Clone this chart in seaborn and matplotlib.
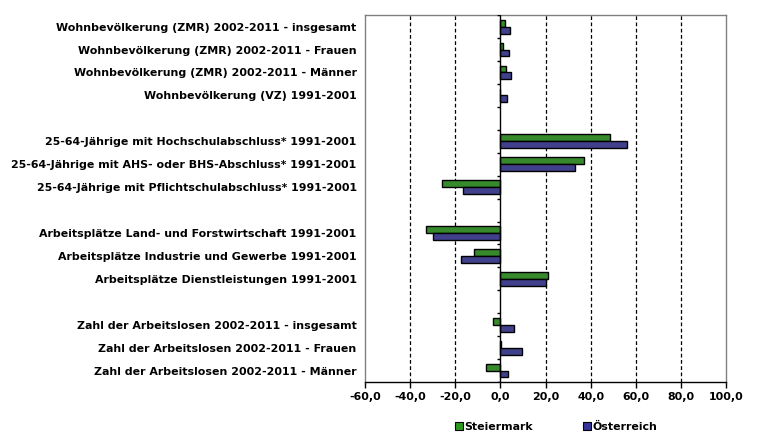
import numpy as np
import pandas as pd
import matplotlib
matplotlib.use("Agg")
import matplotlib.pyplot as plt
import seaborn as sns
from matplotlib.patches import Patch
from matplotlib.ticker import FuncFormatter

# --- data ---
labels = [
    "Wohnbevölkerung (ZMR) 2002-2011 - insgesamt",
    "Wohnbevölkerung (ZMR) 2002-2011 - Frauen",
    "Wohnbevölkerung (ZMR) 2002-2011 - Männer",
    "Wohnbevölkerung (VZ) 1991-2001",
    "25-64-Jährige mit Hochschulabschluss* 1991-2001",
    "25-64-Jährige mit AHS- oder BHS-Abschluss* 1991-2001",
    "25-64-Jährige mit Pflichtschulabschluss* 1991-2001",
    "Arbeitsplätze Land- und Forstwirtschaft 1991-2001",
    "Arbeitsplätze Industrie und Gewerbe 1991-2001",
    "Arbeitsplätze Dienstleistungen 1991-2001",
    "Zahl der Arbeitslosen 2002-2011 - insgesamt",
    "Zahl der Arbeitslosen 2002-2011 - Frauen",
    "Zahl der Arbeitslosen 2002-2011 - Männer",
]
# row slots, with empty slots between the groups
slots = [0, 1, 2, 3, 5, 6, 7, 9, 10, 11, 13, 14, 15]
steiermark = [2.2, 1.3, 2.6, -0.4, 48.7, 37.2, -25.8, -32.8, -11.5, 21.3, -3.5, 0.4, -6.6]
oesterreich = [4.4, 3.9, 4.8, 3.1, 56.3, 33.2, -16.4, -30.1, -17.3, 20.4, 6.2, 9.7, 3.5]
series = ["Steiermark", "Österreich"]
colors = ["#2b9a1c", "#333399"]

df = pd.DataFrame({
    "slot": slots * 2,
    "value": steiermark + oesterreich,
    "series": [series[0]] * len(slots) + [series[1]] * len(slots),
})

sns.set_style("white")
plt.rcParams["font.family"] = ["DejaVu Sans"]
plt.rcParams["text.color"] = "black"
plt.rcParams["xtick.labelcolor"] = "black"
plt.rcParams["ytick.labelcolor"] = "black"

fig = plt.figure(figsize=(7.59, 4.42), dpi=100)
ax = fig.add_axes([0.481, 0.1357, 0.4755, 0.830])

sns.barplot(data=df, x="value", y="slot", hue="series", orient="h",
            native_scale=True, palette=colors, hue_order=series,
            width=0.6, edgecolor="black", linewidth=1.0, legend=False, ax=ax)

ax.set_xlim(-60, 100)
ax.set_ylim(15.5, -0.5)
ax.set_xticks(np.arange(-60, 101, 20))
ax.xaxis.set_major_formatter(FuncFormatter(lambda v, p: f"{v:.1f}".replace(".", ",")))
for v in [-40, -20, 20, 40, 60, 80]:
    ax.axvline(v, color="black", linestyle=(0, (3, 2)), linewidth=0.9, zorder=0)

# category axis at zero with boundary ticks
ax.axvline(0, color="black", linewidth=1.0, zorder=3)
bounds = np.arange(-0.5, 15.6, 1.0)
ax.hlines(bounds, -1.6, 0, color="black", linewidth=1.0, zorder=3)

ax.set_yticks(slots)
ax.set_yticklabels(labels)
ax.tick_params(axis="y", length=0, pad=6, labelsize=7.9, labelcolor="black")
ax.tick_params(axis="x", direction="out", length=4, width=1, color="black",
               labelsize=7.9, pad=3, bottom=True, labelcolor="black")
for t in ax.get_xticklabels() + ax.get_yticklabels():
    t.set_fontweight("bold")
ax.set_xlabel("")
ax.set_ylabel("")

for s in ["left", "top", "right"]:
    ax.spines[s].set_color("#808080")
    ax.spines[s].set_linewidth(1.0)
ax.spines["bottom"].set_color("black")
ax.spines["bottom"].set_linewidth(1.0)

handles = [Patch(facecolor=c, edgecolor="black", linewidth=0.8, label=s)
           for c, s in zip(colors, series)]
leg = fig.legend(handles=handles, loc="center", bbox_to_anchor=(0.733, 0.034),
                 ncol=2, frameon=False, handlelength=0.7, handleheight=0.7,
                 handletextpad=0.15, columnspacing=4.6,
                 prop={"size": 7.9, "weight": "bold"})

fig.savefig("out.png", dpi=100)
